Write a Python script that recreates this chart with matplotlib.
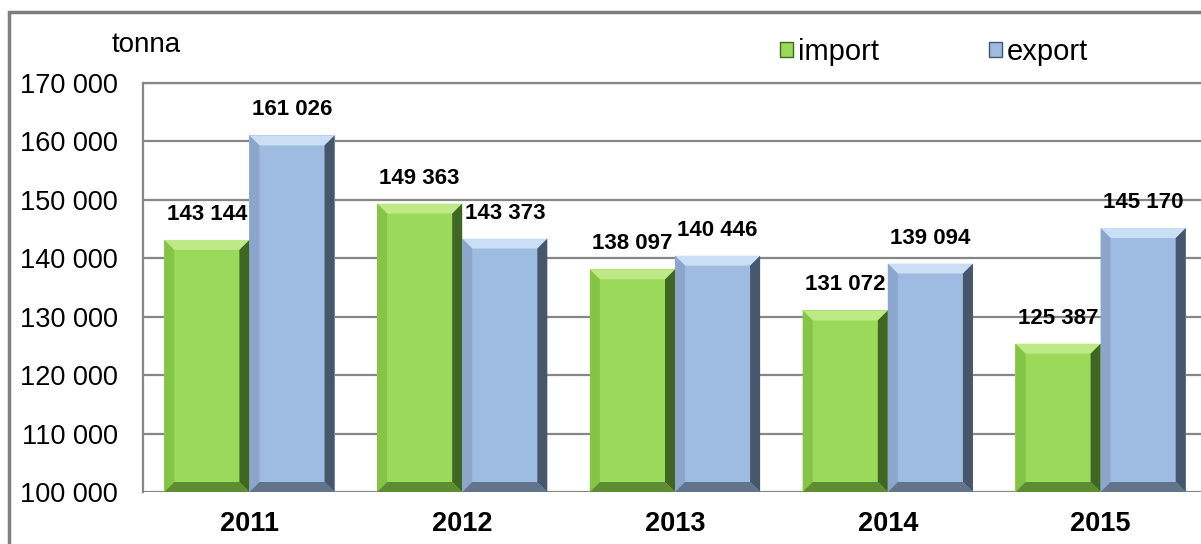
import numpy as np
import matplotlib
matplotlib.use("Agg")
import matplotlib.pyplot as plt
from matplotlib.patches import Polygon, Rectangle, Patch

plt.rcParams['font.family'] = ['Liberation Sans', 'DejaVu Sans']

# data
years = ['2011', '2012', '2013', '2014', '2015']
imports = [143144, 149363, 138097, 131072, 125387]
exports = [161026, 143373, 140446, 139094, 145170]
y_ticks = [100000, 110000, 120000, 130000, 140000, 150000, 160000, 170000]

green = {'face': '#9bd95a', 'top': '#bdea86', 'left': '#86c447', 'right': '#3f6622', 'bottom': '#5e8c33'}
blue = {'face': '#9ebbe2', 'top': '#cadff6', 'left': '#8ba6ca', 'right': '#46566b', 'bottom': '#62738b'}

W, H = 1201, 544
fig = plt.figure(figsize=(W / 100, H / 100), dpi=100)
ax = fig.add_axes([143 / W, 52 / H, 1064 / W, 409 / H])

ymin, ymax = 100000, 170000
ax.set_xlim(-0.5, 4.5)
ax.set_ylim(ymin, ymax)

x = np.arange(len(years))
bw = 0.4

# pixel -> data sizes for the bevel
bev_px = 10
dx = bev_px * 5.0 / 1064
dy = bev_px * (ymax - ymin) / 409


def bevel(bar, c):
    x0, y0 = bar.get_x(), bar.get_y()
    x1, y1 = x0 + bar.get_width(), y0 + bar.get_height()
    polys = [
        ([(x0, y1), (x1, y1), (x1 - dx, y1 - dy), (x0 + dx, y1 - dy)], c['top']),
        ([(x0, y0), (x0, y1), (x0 + dx, y1 - dy), (x0 + dx, y0 + dy)], c['left']),
        ([(x1, y0), (x1, y1), (x1 - dx, y1 - dy), (x1 - dx, y0 + dy)], c['right']),
        ([(x0, y0), (x1, y0), (x1 - dx, y0 + dy), (x0 + dx, y0 + dy)], c['bottom']),
    ]
    for pts, col in polys:
        ax.add_patch(Polygon(pts, closed=True, facecolor=col, edgecolor='none', zorder=3))


bars_i = ax.bar(x - bw / 2, np.array(imports) - ymin, bw, bottom=ymin,
                color=green['face'], zorder=2)
bars_e = ax.bar(x + bw / 2, np.array(exports) - ymin, bw, bottom=ymin,
                color=blue['face'], zorder=2)
for b in bars_i:
    bevel(b, green)
for b in bars_e:
    bevel(b, blue)


def fmt(v):
    return f"{v:,}".replace(",", " ")


for bars, vals in [(bars_i, imports), (bars_e, exports)]:
    for b, v in zip(bars, vals):
        ax.annotate(fmt(v), (b.get_x() + b.get_width() / 2, v), xytext=(0, 15),
                    textcoords='offset pixels', ha='center', va='bottom',
                    fontsize=16, fontweight='bold', zorder=5)

ax.set_yticks(y_ticks)
ax.set_yticklabels([fmt(t) for t in y_ticks], fontsize=19.5)
ax.set_xticks(x)
ax.set_xticklabels(years, fontsize=19.5, fontweight='bold')
ax.tick_params(axis='both', length=0)
ax.tick_params(axis='x', pad=14)
ax.tick_params(axis='y', pad=18)

ax.grid(axis='y', color='#868686', linewidth=1.6, zorder=1)
ax.set_axisbelow(True)
for s in ['right', 'bottom']:
    ax.spines[s].set_visible(False)
for s in ['left', 'top']:
    ax.spines[s].set_color('#868686')
    ax.spines[s].set_linewidth(1.6)

fig.text(146 / W, 1 - 45 / H, 'tonna', ha='center', va='center', fontsize=20)

handles = [Patch(facecolor=green['face'], edgecolor=green['right'], label='import'),
           Patch(facecolor=blue['face'], edgecolor=blue['right'], label='export')]
fig.legend(handles=handles, loc='center left', bbox_to_anchor=(780 / W, 1 - 52 / H),
           ncol=2, frameon=False, fontsize=21, handlelength=0.45, handleheight=0.45,
           handletextpad=0.15, columnspacing=3.8, borderaxespad=0, borderpad=0)

# outer frame
fig.patches.append(Rectangle((9 / W, -0.1), 1.2, 1 - 12 / H + 0.1, transform=fig.transFigure,
                             fill=False, edgecolor='#7f7f7f', linewidth=2.5))

fig.savefig('out.png', dpi=100)
